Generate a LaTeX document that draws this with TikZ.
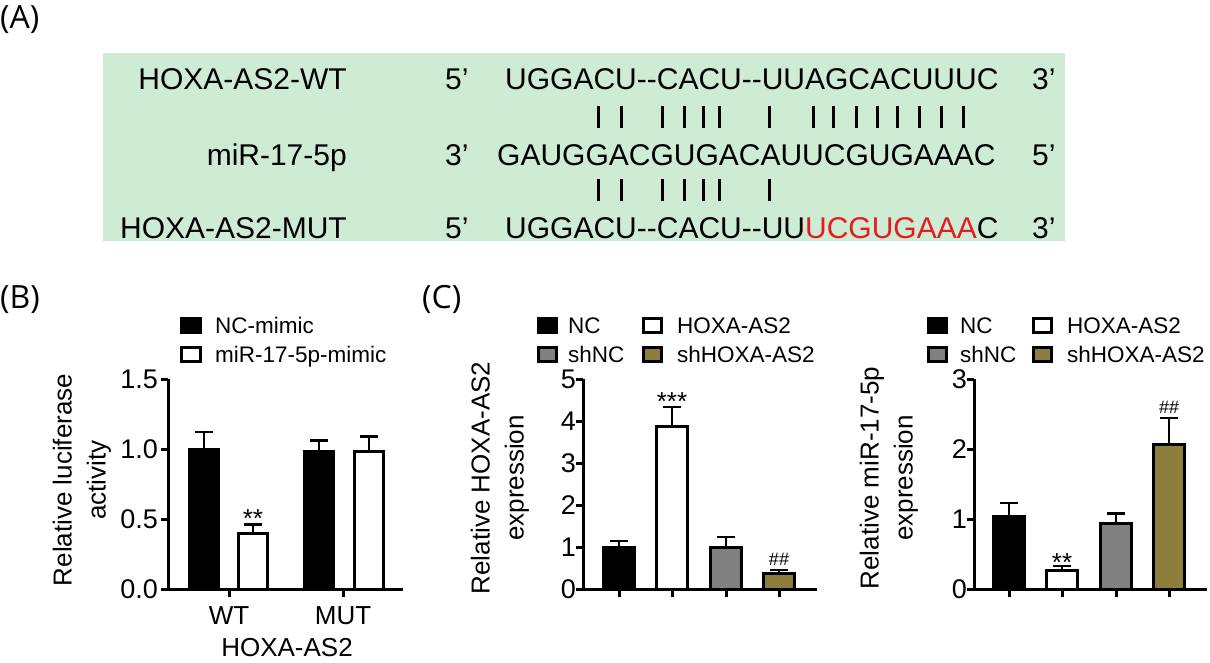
\documentclass[tikz,border=0pt]{standalone}
\usepackage{fontspec}
\setmainfont{Liberation Sans}
\newfontfamily\panelfont{Open Sans}
\definecolor{fondvert}{RGB}{206,235,211}
\definecolor{gris}{RGB}{128,128,128}
\definecolor{kaki}{RGB}{141,126,59}
\definecolor{rouge}{RGB}{228,28,32}

\begin{document}
\begin{tikzpicture}[x=1pt, y=-1pt]

    % Styles
    \tikzstyle{panneau} = [font=\panelfont\fontsize{32}{36}\selectfont, anchor=base west, inner sep=0]
    \tikzstyle{seq} = [font=\fontsize{30}{36}\selectfont, anchor=base west, inner sep=0]
    \tikzstyle{nom} = [font=\fontsize{30}{36}\selectfont, anchor=base east, inner sep=0]
    \tikzstyle{appariement} = [line width=3pt]
    \tikzstyle{axe} = [line width=3pt]
    \tikzstyle{graduation} = [font=\fontsize{27}{30}\selectfont, anchor=east, inner sep=0]
    \tikzstyle{titre} = [font=\fontsize{26}{34}\selectfont, align=center, rotate=90, inner sep=0]
    \tikzstyle{etiquette} = [font=\fontsize{26}{30}\selectfont, inner sep=0]
    \tikzstyle{legende} = [font=\fontsize{22.5}{27}\selectfont, anchor=base west, inner sep=0]
    \tikzstyle{barre} = [draw=black, line width=3pt]
    \tikzstyle{erreur} = [line width=2.5pt]
    \tikzstyle{signif} = [font=\fontsize{26}{30}\selectfont, anchor=base, inner sep=0]
    \tikzstyle{diese} = [font=\fontsize{18}{22}\selectfont, anchor=base, inner sep=0]

    \useasboundingbox (0,0) rectangle (1210,662);

    % (A) sequences
    \node (lblA) [panneau] at (0,28) {(A)};
    \node (cadre) [fill=fondvert, minimum width=962, minimum height=188, anchor=north west, inner sep=0] at (103,53) {};
    \node (wt) [nom] at (347,89) {HOXA-AS2-WT};
    \node (wt5) [seq] at (445,89) {5’};
    \node (wtseq) [seq] at (505,89) {UGGACU-\kern0pt-CACU-\kern0pt-UUAGCACUUUC};
    \node (wt3) [seq] at (1032,89) {3’};
    \node (mir) [nom] at (347,165) {miR-17-5p};
    \node (mir3) [seq] at (445,165) {3’};
    \node (mirseq) [seq] at (497,165) {GAUGGACGUGACAUUCGUGAAAC};
    \node (mir5) [seq] at (1032,165) {5’};
    \node (mut) [nom] at (347,238) {HOXA-AS2-MUT};
    \node (mut5) [seq] at (445,238) {5’};
    \node (mutseq) [seq] at (505,238) {UGGACU-\kern0pt-CACU-\kern0pt-UU\textcolor{rouge}{UCGUGAAA}C};
    \node (mut3) [seq] at (1032,238) {3’};
    \foreach \x in {598,621,662,684,703,719,769,813,833,856,877,897,919,941,963}
        \draw [appariement] (\x,106) -- (\x,128);
    \foreach \x in {598,621,662,684,703,719,769}
        \draw [appariement] (\x,179) -- (\x,201);

    % (B) luciferase
    \node (lblB) [panneau] at (0,308) {(B)};
    \draw [barre, fill=black] (181.5,318.5) rectangle (200.5,332.5);
    \node (legNCm) [legende] at (215,333) {NC-mimic};
    \draw [barre, fill=white] (181.5,347.5) rectangle (200.5,361.5);
    \node (legmim) [legende] at (215,362) {miR-17-5p-mimic};
    \node (titreB) [titre] at (82,480) {Relative luciferase\\activity};
    \begin{scope}[shift={(168,589)}, y=140pt]
        \draw [barre, fill=black] (21.5,0) rectangle (50.5,1.00);
        \draw [erreur] (36,1.00) -- (36,1.12) (27,1.12) -- (45,1.12);
        \draw [barre, fill=white] (70.5,0) rectangle (99.5,0.40);
        \draw [erreur] (85,0.40) -- (85,0.46) (76,0.46) -- (94,0.46);
        \node (etB) [signif] at (85,0.44) {**};
        \draw [barre, fill=black] (136.5,0) rectangle (165.5,0.98);
        \draw [erreur] (151,0.98) -- (151,1.06) (142,1.06) -- (160,1.06);
        \draw [barre, fill=white] (186.5,0) rectangle (215.5,0.98);
        \draw [erreur] (201,0.98) -- (201,1.09) (192,1.09) -- (210,1.09);
        \draw [axe] (0,1.5) -- (0,0) -- (235,0);
        \foreach \v/\t [count=\i] in {0/0.0, 0.5/0.5, 1/1.0, 1.5/1.5} {
            \draw [axe] (-7,\v) -- (0,\v);
            \node (gradB\i) [graduation] at (-10,\v) {\t};
        }
        \draw [axe] (61,0) -- (61,-0.057) (175,0) -- (175,-0.057);
    \end{scope}
    \node (wtB) [etiquette] at (229,616) {WT};
    \node (mutB) [etiquette] at (343,616) {MUT};
    \node (hoxB) [etiquette] at (287,648) {HOXA-AS2};

    % (C) HOXA-AS2
    \node (lblC) [panneau] at (422,308) {(C)};
    \draw [barre, fill=black] (538.5,318.5) rectangle (556.5,332.5);
    \node (legNC1) [legende] at (568,333) {NC};
    \draw [barre, fill=white] (643.5,318.5) rectangle (661.5,332.5);
    \node (legHOX1) [legende] at (677,333) {HOXA-AS2};
    \draw [barre, fill=gris] (538.5,347.5) rectangle (556.5,361.5);
    \node (legsh1) [legende] at (568,362) {shNC};
    \draw [barre, fill=kaki] (643.5,347.5) rectangle (661.5,361.5);
    \node (legshH1) [legende] at (677,362) {shHOXA-AS2};
    \node (titreC1) [titre] at (500,478) {Relative HOXA-AS2\\expression};
    \begin{scope}[shift={(583,589)}, y=42pt]
        \draw [barre, fill=black] (20.5,0) rectangle (51.5,1.00);
        \draw [erreur] (36,1.00) -- (36,1.14) (27,1.14) -- (45,1.14);
        \draw [barre, fill=white] (73.5,0) rectangle (104.5,3.88);
        \draw [erreur] (89,3.88) -- (89,4.33) (80,4.33) -- (98,4.33);
        \node (etC1) [signif] at (89,4.26) {***};
        \draw [barre, fill=gris] (127.5,0) rectangle (158.5,1.00);
        \draw [erreur] (143,1.00) -- (143,1.24) (134,1.24) -- (152,1.24);
        \draw [barre, fill=kaki] (180.5,0) rectangle (211.5,0.38);
        \draw [erreur] (196,0.38) -- (196,0.45) (187,0.45) -- (205,0.45);
        \node (dzC1) [diese] at (196,0.55) {\#\#};
        \draw [axe] (0,5) -- (0,0) -- (234,0);
        \foreach \v in {0,...,5} {
            \draw [axe] (-7,\v) -- (0,\v);
            \node (gradC\v) [graduation] at (-7,\v) {\v};
        }
        \foreach \x in {36,89,143,196}
            \draw [axe] (\x,0) -- (\x,-0.19);
    \end{scope}

    % (C) miR-17-5p
    \draw [barre, fill=black] (928.5,318.5) rectangle (946.5,332.5);
    \node (legNC2) [legende] at (960,333) {NC};
    \draw [barre, fill=white] (1033.5,318.5) rectangle (1051.5,332.5);
    \node (legHOX2) [legende] at (1067,333) {HOXA-AS2};
    \draw [barre, fill=gris] (928.5,347.5) rectangle (946.5,361.5);
    \node (legsh2) [legende] at (960,362) {shNC};
    \draw [barre, fill=kaki] (1033.5,347.5) rectangle (1051.5,361.5);
    \node (legshH2) [legende] at (1067,362) {shHOXA-AS2};
    \node (titreC2) [titre] at (889,478) {Relative miR-17-5p\\expression};
    \begin{scope}[shift={(974,589)}, y=70pt]
        \draw [barre, fill=black] (19.5,0) rectangle (50.5,1.03);
        \draw [erreur] (35,1.03) -- (35,1.23) (26,1.23) -- (44,1.23);
        \draw [barre, fill=white] (72.5,0) rectangle (103.5,0.27);
        \draw [erreur] (88,0.27) -- (88,0.33) (79,0.33) -- (97,0.33);
        \node (etC2) [signif] at (88,0.257) {**};
        \draw [barre, fill=gris] (126.5,0) rectangle (157.5,0.93);
        \draw [erreur] (142,0.93) -- (142,1.08) (133,1.08) -- (151,1.08);
        \draw [barre, fill=kaki] (179.5,0) rectangle (210.5,2.07);
        \draw [erreur] (195,2.07) -- (195,2.44) (186,2.44) -- (204,2.44);
        \node (dzC2) [diese] at (195,2.51) {\#\#};
        \draw [axe] (0,3) -- (0,0) -- (233,0);
        \foreach \v in {0,...,3} {
            \draw [axe] (-7,\v) -- (0,\v);
            \node (gradD\v) [graduation] at (-7,\v) {\v};
        }
        \foreach \x in {35,88,142,195}
            \draw [axe] (\x,0) -- (\x,-0.114);
    \end{scope}

\end{tikzpicture}
\end{document}
